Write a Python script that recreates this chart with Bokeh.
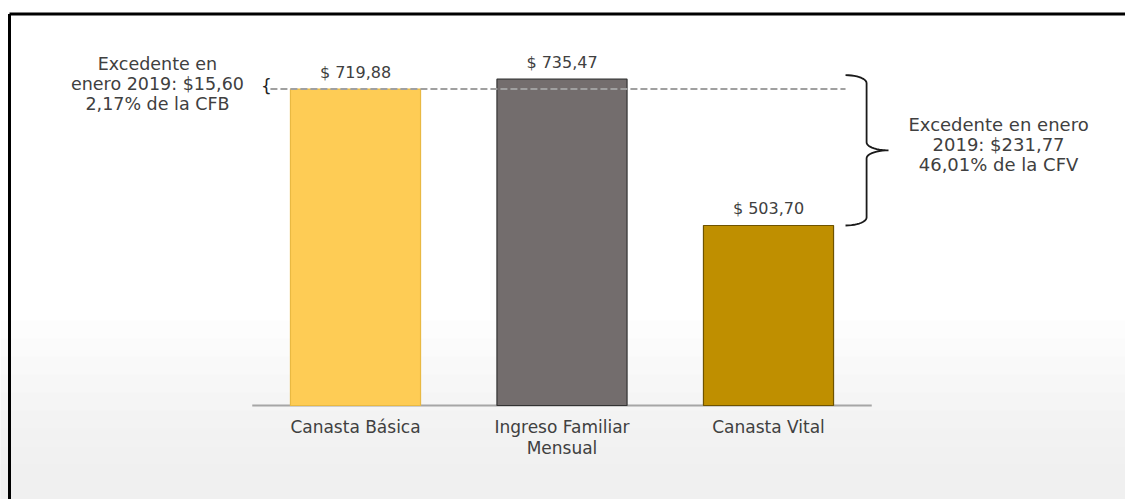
import numpy as np
from bokeh.plotting import figure
from bokeh.models import Range1d, FixedTicker, ColumnDataSource, BoxAnnotation
from bokeh.core.properties import value
from bokeh.embed import file_html
from bokeh.resources import INLINE

# ---- data ----
categories = ["Canasta Básica", "Ingreso Familiar\nMensual", "Canasta Vital"]
amounts = [719.88, 735.47, 503.70]
bar_colors = ["#FECC55", "#736D6D", "#BF8F00"]
bar_lines = ["#E9B942", "#333333", "#6E5300"]
note_left = "Excedente en\nenero 2019: $15,60\n2,17% de la CFB"
note_right = "Excedente en enero\n2019: $231,77\n46,01% de la CFV"

# ---- layout ----
FONT = "DejaVu Sans"
TXT = "#404040"
W, H = 1125, 499
BASE_PX = 405         # baseline row in the picture
PX_X = 206.5          # pixels per category
PX_Y = 0.6312         # pixels per dollar
x_start = -355 / PX_X
x_end = x_start + W / PX_X
y_base = 218.5
y_start = y_base - (H - BASE_PX) / PX_Y
y_end = y_base + BASE_PX / PX_Y

def ypx(py):
    return y_base + (BASE_PX - py) / PX_Y

p = figure(width=W, height=H, x_range=Range1d(x_start, x_end),
           y_range=Range1d(y_start, y_end), output_backend="svg",
           toolbar_location=None, min_border_left=0, min_border_right=0,
           min_border_top=0, min_border_bottom=0)
p.background_fill_color = "white"
p.border_fill_color = "white"
p.outline_line_color = None
p.grid.visible = False
p.yaxis.visible = False

# soft grey fade toward the bottom of the slide
shades = ["#fdfdfd", "#fbfbfb", "#f9f9f9", "#f7f7f7", "#f5f5f5", "#f3f3f3",
          "#f2f2f2", "#f1f1f1", "#f0f0f0"]
for i, c in enumerate(shades):
    p.add_layout(BoxAnnotation(top=ypx(320 + i * 18), fill_color=c,
                               fill_alpha=1, line_color=None, level="underlay"))

xs = list(range(len(categories)))
src = ColumnDataSource(dict(x=xs, top=amounts, fill=bar_colors, line=bar_lines,
                            lab=[("$ %.2f" % v).replace(".", ",") for v in amounts]))

# axis with category labels, drawn at the baseline
ax = p.xaxis[0]
ax.fixed_location = y_base
ax.ticker = FixedTicker(ticks=xs)
ax.major_label_overrides = {i: c for i, c in enumerate(categories)}
ax.axis_line_color = None
ax.major_tick_line_color = None
ax.minor_tick_line_color = None
ax.major_label_standoff = 5
ax.major_label_text_font = FONT
ax.major_label_text_font_size = "17px"
ax.major_label_text_color = TXT
ax.major_label_text_line_height = 1.09

# baseline
p.segment(x0=[-0.5], x1=[len(categories) - 0.5], y0=[y_base], y1=[y_base],
          line_color="#A6A6A6", line_width=2)

# bars
p.vbar(x="x", top="top", bottom=y_base, width=0.63, source=src,
       fill_color="fill", line_color="line", line_width=1.2)

p.text(x="x", y="top", text="lab", source=src, text_align="center",
       text_baseline="bottom", y_offset=-7, text_font=value(FONT),
       text_font_size="16px", text_color=TXT)

# dashed reference line at Canasta Básica level
p.segment(x0=[-0.412], x1=[2.373], y0=[amounts[0]], y1=[amounts[0]],
          line_color="#A0A0A0", line_width=2, line_dash="7 3")
p.text(x=[-0.405], y=[amounts[0]], text=["{"], text_align="right",
       text_baseline="middle", y_offset=-3, text_font=value(FONT),
       text_font_size="17px", text_color="#222222")
p.text(x=[-0.959], y=[amounts[0]], text=[note_left], text_align="center",
       text_baseline="middle", y_offset=-5, text_font=value(FONT),
       text_font_size="17.5px", text_color=TXT, text_line_height=1.0)

# right curly brace between Ingreso and Canasta Vital
x0, xv, xt = 2.373, 2.475, 2.581
yt, yb = amounts[1] + 4 / PX_Y, amounts[2]
ym = (yt + yb) / 2
ry = 8 / PX_Y
th = np.linspace(np.pi / 2, 0, 12)
bx = list(x0 + (xv - x0) * np.cos(th)); by = list(yt - ry + ry * np.sin(th))
th2 = np.linspace(np.pi, 1.5 * np.pi, 12)
bx += list(xt + (xt - xv) * np.cos(th2)); by += list(ym + ry + ry * np.sin(th2))
th3 = np.linspace(0.5 * np.pi, np.pi, 12)
bx += list(xt + (xt - xv) * np.cos(th3)); by += list(ym - ry + ry * np.sin(th3))
th4 = np.linspace(0, -np.pi / 2, 12)
bx += list(x0 + (xv - x0) * np.cos(th4)); by += list(yb + ry + ry * np.sin(th4))
p.line(bx, by, line_color="#1a1a1a", line_width=1.8)

p.text(x=[3.114], y=[ym], text=[note_right], text_align="center",
       text_baseline="middle", y_offset=-6, text_font=value(FONT),
       text_font_size="18px", text_color=TXT, text_line_height=0.96)

# slide border (top and left)
bl = x_start + 9 / PX_X
bt = ypx(13.5)
p.segment(x0=[bl, bl], x1=[x_end, bl], y0=[bt, bt], y1=[bt, y_start],
          line_color="black", line_width=3)

open("out.html", "w").write(file_html(p, INLINE))
